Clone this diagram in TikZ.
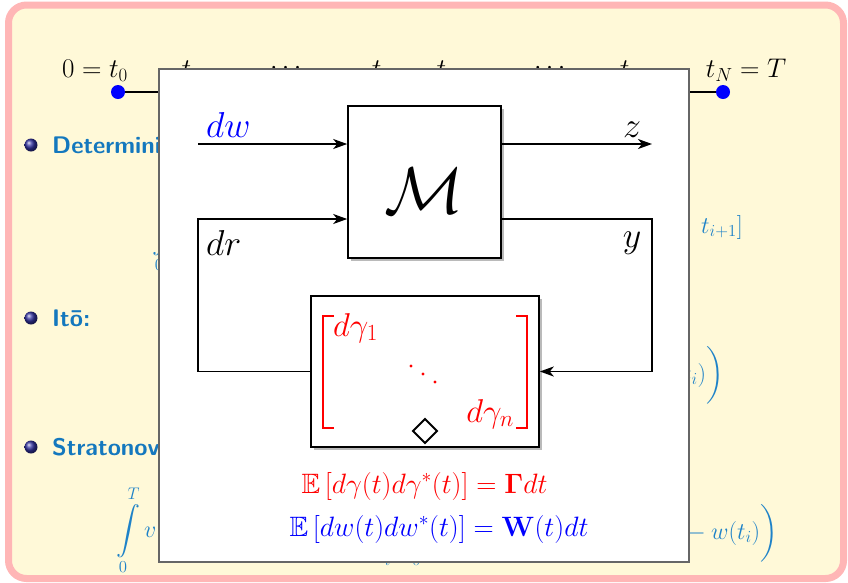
\documentclass[tikz,border=0pt]{standalone}
\usepackage{fix-cm}
\usepackage{amsmath,amssymb}
\usetikzlibrary{arrows.meta,shadows}
\definecolor{bgyellow}{RGB}{255,249,216}
\definecolor{bordpink}{RGB}{255,182,182}
\definecolor{strblue}{RGB}{20,120,190}
\definecolor{fragblue}{RGB}{30,130,200}
\definecolor{ballblue}{RGB}{50,50,160}
\begin{document}
\begin{tikzpicture}[x=1pt,y=-1pt,
  arr/.style={line width=1.8pt,-{Stealth[length=14pt,width=10pt,inset=4pt]}},
  blk/.style={draw,line width=1.6pt,fill=white,inner sep=0pt,
    drop shadow={shadow xshift=3pt,shadow yshift=-3pt,opacity=0.45,fill=black!60}},
  tlabel/.style={font=\fontsize{27}{32}\selectfont,anchor=base,inner sep=0pt},
  tdot/.style={fill=blue,draw=none},
  bullettext/.style={font=\sffamily\bfseries\fontsize{24}{28}\selectfont,text=strblue,anchor=base west,inner sep=0pt},
  frag/.style={font=\fontsize{24}{28}\selectfont,text=fragblue,inner sep=0pt},
  biglabel/.style={font=\fontsize{36}{40}\selectfont,inner sep=0pt},
  gam/.style={font=\fontsize{33}{37}\selectfont,text=red,inner sep=0pt},
  eqn/.style={font=\fontsize{28}{32}\selectfont,inner sep=0pt,anchor=base},
  brk/.style={draw=red,line width=1.8pt}
]
\useasboundingbox (0,0) rectangle (848,582);
% slide background
\draw[draw=bordpink,fill=bgyellow,line width=7pt,rounded corners=18pt] (8.5,5) rectangle (843.5,578.5);

% timeline
\coordinate (tl) at (118,92);
\coordinate (tr) at (723,92);
\draw[line width=2pt] (tl) -- (tr);
\fill[tdot] (tl) circle (7);
\fill[tdot] (tr) circle (7);
\node[tlabel] (l0) at (95,77) {$0=t_0$};
\node[tlabel] (l1) at (191,77) {$t_1$};
\node[tlabel] (l2) at (288,74.5) {$\cdots$};
\node[tlabel] (l3) at (380,77) {$t_i$};
\node[tlabel] (l4) at (456,77) {$t_{i+1}$};
\node[tlabel] (l5) at (552,74.5) {$\cdots$};
\node[tlabel] (l6) at (645,77) {$t_{N-1}$};
\node[tlabel] (l7) at (746,77) {$t_N=T$};

% bullets
\shade[ball color=ballblue] (31,145) circle (6.5);
\shade[ball color=ballblue] (31,318) circle (6.5);
\shade[ball color=ballblue] (31,447) circle (6.5);
\node[bullettext] (b1) at (52,153) {Deterministic:};
\node[bullettext] (b2) at (52,326) {Itō:};
\node[bullettext] (b3) at (52,455) {Stratonovich:};

% formula fragments behind the overlay
\node[frag,anchor=base west] (f1) at (152,235) {$\displaystyle\int\limits_0$};
\node[frag,anchor=base east] (f2) at (743,233) {$t_{i+1}]$};
\node[frag,anchor=base east] (f3) at (724,381) {$w(t_i)\biggr)$};
\node[frag,anchor=base west] (f4) at (116,537) {$\displaystyle\int\limits_0^T v$};
\node[frag,anchor=base east] (f5) at (778,539) {${}-w(t_i)\biggr)$};
\node[font=\fontsize{17}{20}\selectfont,text=fragblue,inner sep=0pt,anchor=base] (f6) at (402.5,565) {$i=0$};

% overlay box
\draw[draw=black!60,line width=1.2pt,fill=white] (159,69) rectangle (689,562);

% blocks
\node[blk,minimum width=153pt,minimum height=152pt] (M) at (424.5,182) {};
\node[font=\fontsize{66}{70}\selectfont,inner sep=0pt,anchor=base] (Mlab) at (424.5,213) {$\mathcal{M}$};
\node[blk,minimum width=228pt,minimum height=151pt] (G) at (425,371.5) {};

% connectors
\coordinate (dwin) at (198,144);
\coordinate (zout) at (652,144);
\coordinate (yc) at (652,219);
\coordinate (rt) at (198,219);
\draw[arr] (dwin) -- (dwin -| M.west);
\draw[arr] (M.east |- zout) -- (zout);
\draw[arr] (M.east |- yc) -- (yc) |- (G.east);
\draw[arr] (G.west) -| (rt) -- (rt -| M.west);

% labels
\node[biglabel,text=blue,anchor=base west] (dw) at (206,137) {$dw$};
\node[biglabel,anchor=base] (z) at (632,137) {$z$};
\node[biglabel,anchor=base west] (dr) at (206,255) {$dr$};
\node[biglabel,anchor=base] (y) at (632,247) {$y$};

% matrix inside G
\draw[brk] (334,316) -- (323,316) -- (323,428) -- (334,428);
\draw[brk] (516,316) -- (527,316) -- (527,428) -- (516,428);
\node[gam,anchor=base west] (g1) at (333,336) {$d\gamma_1$};
\node[gam,anchor=base east] (gn) at (514,422) {$d\gamma_n$};
\fill[red] (411,366) circle (1.6);
\fill[red] (423,374) circle (1.6);
\fill[red] (435,382) circle (1.6);
\draw[line width=1.8pt] (425,419) -- (437,431) -- (425,443) -- (413,431) -- cycle;

% equations
\node[eqn,text=red] (e1) at (424.5,493) {$\mathbb{E}\left[d\gamma(t)d\gamma^*(t)\right]=\mathbf{\Gamma}dt$};
\node[eqn,text=blue] (e2) at (439,536) {$\mathbb{E}\left[dw(t)dw^*(t)\right]=\mathbf{W}(t)dt$};
\end{tikzpicture}
\end{document}
